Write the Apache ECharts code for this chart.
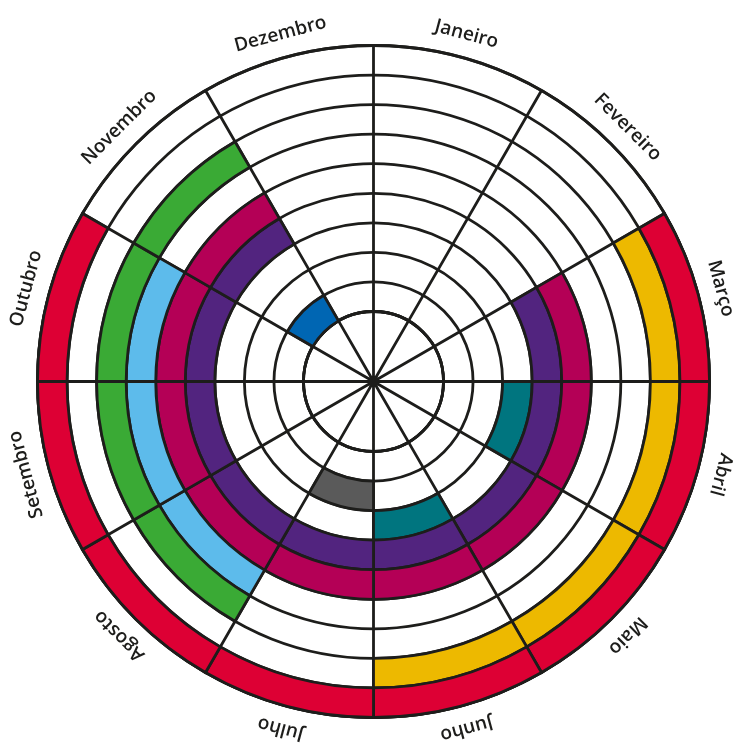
<!DOCTYPE html>
<html><head><meta charset="utf-8">
<script src="https://cdn.jsdelivr.net/npm/echarts@6/dist/echarts.min.js"></script>
<style>html,body{margin:0;padding:0;background:#fff}#c{width:734px;height:747px}</style>
</head><body><div id="c"></div>
<script>
// ---- data ----
const months = ['Janeiro','Fevereiro','Março','Abril','Maio','Junho','Julho','Agosto','Setembro','Outubro','Novembro','Dezembro'];
const rings = ['1','2','3','4','5','6','7','8','9'];           // 1 = innermost ring
// colored bands: ring, first month index, last month index
const bandRing  = [9, 8, 7, 6, 5, 4, 3, 3, 2, 1];
const bandFirst = [2, 2, 7, 7, 2, 2, 3, 5, 6, 10];
const bandLast  = [9, 5, 10, 9, 10, 10, 3, 5, 6, 10];
const bandColor = ['#DD0034','#EDB900','#3AAA35','#5DBBEB','#B40056','#52247F','#00757F','#00757F','#5A5A5A','#0066B3'];

// ---- style ----
const LINE = '#1d1d1b';
const LW = 2.8;
const CENTER = [373.5, 381.5];

const cell = months.map(() => rings.map(() => null));
bandRing.forEach((r, i) => {
  for (let m = bandFirst[i]; m <= bandLast[i]; m++) cell[m][r - 1] = bandColor[i];
});

const barSeries = months.map((m, mi) => ({
  type: 'bar', coordinateSystem: 'polar', polarIndex: 1, stack: 'months', name: m,
  barCategoryGap: '0%', silent: true, z: 3,
  data: rings.map((r, ri) => {
    const c = cell[mi][ri];
    return {
      value: 1,
      itemStyle: c ? { color: c, borderColor: LINE, borderWidth: LW }
                   : { color: 'rgba(0,0,0,0)', borderWidth: 0 }
    };
  })
}));

const labelSeries = {
  type: 'custom', coordinateSystem: 'polar', polarIndex: 2, silent: true, z: 5,
  data: months.map(m => [1.07, m]),
  renderItem(params, api) {
    const p = api.coord([api.value(0), api.value(1)]);
    const cs = params.coordSys;
    const th = Math.atan2(p[0] - cs.cx, cs.cy - p[1]);
    return {
      type: 'text', x: p[0], y: p[1], rotation: -th,
      style: { text: months[params.dataIndex], fill: LINE, font: '600 19px "Open Sans"',
               align: 'center', verticalAlign: 'middle' }
    };
  }
};

const chart = echarts.init(document.getElementById('c'), null, { renderer: 'canvas' });
chart.setOption({
  animation: false,
  backgroundColor: '#fff',
  polar: [
    { center: CENTER, radius: [0, 70] },
    { center: CENTER, radius: [70, 336] },
    { center: CENTER, radius: [0, 336] }
  ],
  angleAxis: [
    { polarIndex: 0, type: 'value', min: 0, max: 12, interval: 1, startAngle: 90, clockwise: true,
      axisLine: { show: true, lineStyle: { color: LINE, width: LW } },
      axisTick: { show: false }, axisLabel: { show: false },
      splitLine: { show: true, lineStyle: { color: LINE, width: LW } }, splitArea: { show: false } },
    { polarIndex: 1, type: 'value', min: 0, max: 12, interval: 1, startAngle: 90, clockwise: true,
      axisLine: { show: true, lineStyle: { color: LINE, width: LW } },
      axisTick: { show: false }, axisLabel: { show: false },
      splitLine: { show: true, lineStyle: { color: LINE, width: LW } }, splitArea: { show: false } },
    { polarIndex: 2, type: 'category', data: months, startAngle: 90, clockwise: true, boundaryGap: true,
      axisLine: { show: false }, axisTick: { show: false }, axisLabel: { show: false },
      splitLine: { show: false }, splitArea: { show: false } }
  ],
  radiusAxis: [
    { polarIndex: 0, type: 'value', min: 0, max: 1, axisLine: { show: false }, axisTick: { show: false },
      axisLabel: { show: false }, splitLine: { show: false }, splitArea: { show: false } },
    { polarIndex: 1, type: 'category', data: rings, axisLine: { show: false }, axisTick: { show: false },
      axisLabel: { show: false }, splitLine: { show: true, lineStyle: { color: LINE, width: LW } },
      splitArea: { show: false } },
    { polarIndex: 2, type: 'value', min: 0, max: 1, axisLine: { show: false }, axisTick: { show: false },
      axisLabel: { show: false }, splitLine: { show: false }, splitArea: { show: false } }
  ],
  series: [...barSeries, labelSeries]
});
</script></body></html>
